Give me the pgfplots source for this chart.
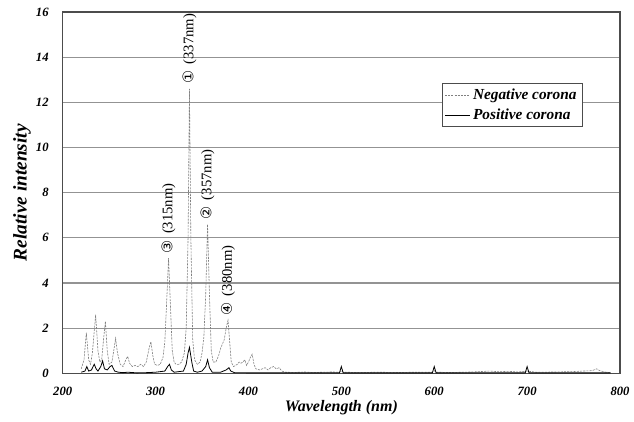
\documentclass[border=0pt]{standalone}
\usepackage{fontspec}
\setmainfont{Liberation Serif}
\newfontfamily\symfont{DejaVu Sans}
\usepackage{pgfplots}
\pgfplotsset{compat=1.18}

\pgfplotstableread{
lambda  val
220 0.20
223 0.60
225.5 1.80
228 0.60
230 0.40
232 0.90
235.5 2.60
238 1.00
240 0.50
242 0.60
244 1.50
246 2.30
248 1.00
250 0.40
253 0.50
255 1.00
257 1.55
259 0.90
262 0.40
265 0.30
268 0.60
270 0.75
272 0.45
275 0.30
278 0.35
281 0.30
284 0.40
287 0.30
290 0.50
293 1.10
295 1.40
297 0.80
299 0.40
302 0.35
305 0.40
308 0.70
310 1.40
312 3.20
314 5.10
316 3.00
318 1.00
320 0.50
322 0.40
325 0.40
328 0.50
331 0.90
333 2.00
335 6.00
336.5 12.60
338 6.00
340 1.50
342 0.60
345 0.40
348 0.50
350 0.90
352 1.60
354 3.50
356 6.60
358 3.50
360 1.00
362 0.50
365 0.50
368 0.80
370 1.10
372 1.30
374 1.50
376 2.00
378 2.35
380 1.30
381.5 0.50
384 0.30
386 0.35
388 0.40
390 0.50
392 0.45
394 0.50
396 0.60
398 0.35
400 0.50
402 0.70
404 0.85
406 0.40
408 0.20
412 0.15
415 0.20
418 0.25
421 0.15
424 0.25
427 0.30
430 0.20
433 0.25
436 0.10
440 0.05
450 0.04
460 0.06
470 0.04
480 0.05
490 0.06
498 0.05
500 0.12
502 0.05
520 0.04
540 0.05
560 0.04
580 0.05
598 0.05
600 0.12
602 0.05
620 0.04
640 0.06
650 0.08
660 0.10
670 0.07
680 0.09
690 0.06
700 0.10
710 0.05
730 0.06
750 0.08
760 0.10
770 0.12
775 0.20
778 0.12
785 0.05
790 0.04
}\negtab

\pgfplotstableread{
lambda  val
220 0.05
224 0.10
226 0.30
228 0.10
231 0.15
234 0.40
236 0.20
238 0.10
241 0.30
243 0.55
245 0.20
248 0.15
251 0.30
253 0.35
256 0.10
260 0.05
265 0.03
270 0.05
280 0.02
290 0.03
300 0.05
310 0.10
313 0.30
315 0.40
317 0.15
320 0.05
330 0.10
333 0.40
335 0.90
336.5 1.15
339 0.50
341 0.10
345 0.05
350 0.10
354 0.30
356 0.60
358 0.25
361 0.05
370 0.05
376 0.15
379 0.25
381 0.10
385 0.03
400 0.02
498 0.02
500 0.30
502 0.02
598 0.02
600 0.30
602 0.02
698 0.02
700 0.30
702 0.02
790 0.02
}\postab

\begin{document}
\begin{tikzpicture}
\begin{axis}[
    scale only axis,
    width=418pt,
    height=271pt,
    xmin=200, xmax=800,
    ymin=0, ymax=16,
    xtick={200,300,...,800},
    ytick={0,2,...,16},
    major tick length=0pt,
    ymajorgrids=true,
    grid style={draw=gray!85, line width=0.8pt},
    axis line style={draw=black!70, line width=0.8pt},
    tick label style={font=\fontsize{9.5}{10}\selectfont\bfseries\itshape},
    /pgf/number format/assume math mode=true,
    xticklabel style={yshift=-7pt},
    yticklabel style={xshift=-7pt},
    xlabel={Wavelength (nm)},
    ylabel={Relative intensity},
    xlabel style={font=\fontsize{12}{14}\selectfont\bfseries\itshape,
        at={(axis description cs:0.5,-0.096)}, anchor=center},
    ylabel style={font=\fontsize{14.5}{16}\selectfont\bfseries\itshape,
        at={(axis description cs:-0.073,0.5)}, anchor=center},
    legend style={at={(0.932,0.803)}, anchor=north east, draw=black!70,
        fill=white, font=\fontsize{11.5}{13}\selectfont\bfseries\itshape,
        row sep=1.5pt, inner sep=2pt},
    legend cell align=left,
    legend image post style={xscale=1.1},
]
\addplot[gray, line width=0.45pt, dash pattern=on 1.6pt off 0.8pt] table[x=lambda, y=val] {\negtab};
\addplot[black, line width=0.6pt] table[x=lambda, y=val] {\postab};
\legend{Negative corona, Positive corona}

\node[rotate=90, anchor=west, font=\fontsize{11}{12}\selectfont, inner sep=1pt] at (axis cs:336.5,12.75) {{\symfont ①}\, (337nm)};
\node[rotate=90, anchor=west, font=\fontsize{11}{12}\selectfont, inner sep=1pt] at (axis cs:356,6.75) {{\symfont ②}\, (357nm)};
\node[rotate=90, anchor=west, font=\fontsize{11}{12}\selectfont, inner sep=1pt] at (axis cs:314,5.25) {{\symfont ③}\, (315nm)};
\node[rotate=90, anchor=west, font=\fontsize{11}{12}\selectfont, inner sep=1pt] at (axis cs:378,2.5) {{\symfont ④}\, (380nm)};
\coordinate (bl) at (rel axis cs:0,0);
\coordinate (tr) at (rel axis cs:1,1);
\end{axis}
% page margins like the reference
\path (bl) ++(-47pt,-36pt);
\path (tr) ++(10.5pt,9pt);
\end{tikzpicture}
\end{document}
